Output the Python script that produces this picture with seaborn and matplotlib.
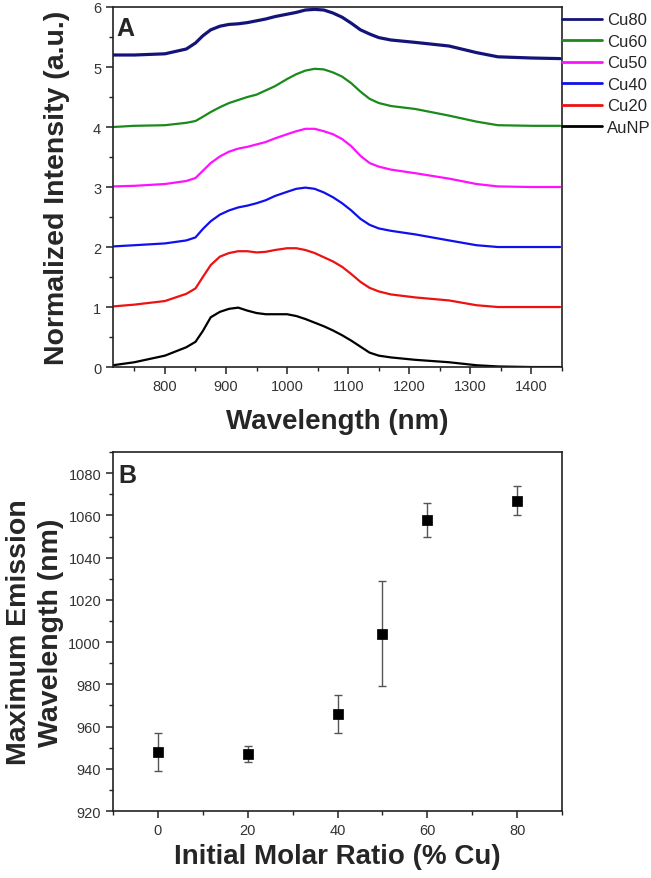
import matplotlib
matplotlib.use('Agg')
import matplotlib.pyplot as plt
import seaborn as sns

# wavelength grid (nm) shared by all spectra
wavelength = [715, 750, 800, 835, 850, 862, 875, 890, 905, 920, 935, 950,
              965, 980, 1000, 1015, 1030, 1045, 1060, 1075, 1090, 1105,
              1120, 1135, 1150, 1170, 1210, 1265, 1310, 1345, 1400, 1447]

aunp = [0.03, 0.08, 0.19, 0.33, 0.42, 0.60, 0.83, 0.92, 0.97, 0.99, 0.94,
        0.90, 0.88, 0.88, 0.88, 0.85, 0.80, 0.74, 0.68, 0.61, 0.53, 0.44,
        0.34, 0.24, 0.19, 0.16, 0.12, 0.08, 0.03, 0.01, 0.00, 0.00]
cu20 = [1.01, 1.04, 1.10, 1.22, 1.31, 1.50, 1.70, 1.84, 1.90, 1.93, 1.93,
        1.91, 1.92, 1.95, 1.98, 1.98, 1.95, 1.90, 1.83, 1.76, 1.67, 1.55,
        1.42, 1.32, 1.26, 1.21, 1.16, 1.11, 1.03, 1.00, 1.00, 1.00]
cu40 = [2.01, 2.03, 2.06, 2.11, 2.16, 2.30, 2.43, 2.54, 2.61, 2.66, 2.69,
        2.73, 2.78, 2.85, 2.92, 2.97, 2.99, 2.97, 2.91, 2.83, 2.73, 2.61,
        2.47, 2.37, 2.31, 2.27, 2.21, 2.11, 2.03, 2.00, 2.00, 2.00]
cu50 = [3.01, 3.02, 3.05, 3.10, 3.15, 3.27, 3.40, 3.51, 3.59, 3.64, 3.67,
        3.71, 3.75, 3.81, 3.88, 3.93, 3.97, 3.97, 3.93, 3.88, 3.80, 3.68,
        3.52, 3.40, 3.34, 3.29, 3.23, 3.14, 3.05, 3.01, 3.00, 3.00]
cu60 = [4.00, 4.02, 4.03, 4.07, 4.10, 4.17, 4.25, 4.33, 4.40, 4.45, 4.50,
        4.54, 4.61, 4.68, 4.80, 4.88, 4.94, 4.97, 4.96, 4.91, 4.84, 4.73,
        4.59, 4.47, 4.40, 4.35, 4.30, 4.19, 4.09, 4.03, 4.02, 4.02]
cu80 = [5.20, 5.20, 5.22, 5.30, 5.40, 5.52, 5.62, 5.68, 5.71, 5.72, 5.74,
        5.77, 5.80, 5.84, 5.88, 5.91, 5.95, 5.96, 5.95, 5.90, 5.83, 5.73,
        5.62, 5.55, 5.49, 5.45, 5.41, 5.35, 5.24, 5.17, 5.15, 5.14]

series_names = ['AuNP', 'Cu20', 'Cu40', 'Cu50', 'Cu60', 'Cu80']
series_colors = ['black', '#ee1111', '#1010ee', '#ff11ff', '#1a8a1a', '#141478']

# panel B
cu_ratio = [0, 20, 40, 50, 60, 80]
max_wavelength = [948, 947, 966, 1004, 1058, 1067]
wavelength_err = [9, 4, 9, 25, 8, 7]

sns.set_style('ticks')
plt.rcParams['font.family'] = ['Liberation Sans', 'DejaVu Sans']
plt.rcParams['xtick.direction'] = 'out'
plt.rcParams['ytick.direction'] = 'out'

fig = plt.figure(figsize=(6.51, 8.79), dpi=100)
ax1 = fig.add_axes([0.1736, 0.5813, 0.6897, 0.4096])
ax2 = fig.add_axes([0.1736, 0.0762, 0.6897, 0.4084])

tick_color = '#333333'


def style_axes(ax):
    for sp in ax.spines.values():
        sp.set_visible(True)
        sp.set_color('#222222')
        sp.set_linewidth(1.2)
    ax.tick_params(which='major', length=5, width=1.1, color='#222222',
                   labelsize=10.5, labelcolor=tick_color)
    ax.tick_params(which='minor', length=3, width=1.0, color='#222222')


# ---- panel A: stacked spectra
spectra = [aunp, cu20, cu40, cu50, cu60, cu80]
handles = []
for name, vals, col in zip(series_names, spectra, series_colors):
    lw = 2.3 if name == 'Cu80' else 1.6
    sns.lineplot(x=wavelength, y=vals, color=col, linewidth=lw, ax=ax1)
    handles.append(ax1.lines[-1])

ax1.set_xlim(715, 1450)
ax1.set_ylim(0, 6)
ax1.set_xticks(range(800, 1401, 100))
ax1.set_xticks(range(750, 1451, 50), minor=True)
ax1.set_yticks(range(0, 7))
ax1.set_yticks([i + 0.5 for i in range(6)], minor=True)
style_axes(ax1)

ax1.set_xlabel('Wavelength (nm)', fontsize=20, fontweight='bold')
ax1.set_ylabel('Normalized Intensity (a.u.)', fontsize=20.5, fontweight='bold')
ax1.xaxis.set_label_coords(0.5, -0.115)
ax1.yaxis.set_label_coords(-0.095, 0.5)
ax1.text(0.008, 0.975, 'A', transform=ax1.transAxes, ha='left', va='top',
         fontsize=18, fontweight='bold')

leg = ax1.legend(handles[::-1], series_names[::-1], loc='upper left',
                 bbox_to_anchor=(1.0, 0.985), borderaxespad=0, borderpad=0,
                 frameon=False, fontsize=12, handlelength=2.4,
                 handletextpad=0.3, labelspacing=0.39)
for ln in leg.get_lines():
    ln.set_linewidth(2.0)

# ---- panel B: emission maximum vs copper ratio
ax2.errorbar(cu_ratio, max_wavelength, yerr=wavelength_err, fmt='none',
             ecolor='#555555', elinewidth=1.0, capsize=3, capthick=1.0,
             zorder=2)
sns.scatterplot(x=cu_ratio, y=max_wavelength, marker='s', s=42,
                color='black', edgecolor='black', ax=ax2, zorder=3)

ax2.set_xlim(-10, 90)
ax2.set_ylim(920, 1090)
ax2.set_xticks(range(0, 81, 20))
ax2.set_xticks(range(-10, 91, 10), minor=True)
ax2.set_yticks(range(920, 1081, 20))
ax2.set_yticks(range(930, 1091, 10), minor=True)
style_axes(ax2)

ax2.set_xlabel('Initial Molar Ratio (% Cu)', fontsize=20, fontweight='bold')
ax2.set_ylabel('Maximum Emission\nWavelength (nm)', fontsize=20.5,
               fontweight='bold', linespacing=1.3)
ax2.xaxis.set_label_coords(0.5, -0.09)
ax2.yaxis.set_label_coords(-0.11, 0.5)
ax2.text(0.012, 0.97, 'B', transform=ax2.transAxes, ha='left', va='top',
         fontsize=18, fontweight='bold')

fig.savefig('out.png', dpi=100)
